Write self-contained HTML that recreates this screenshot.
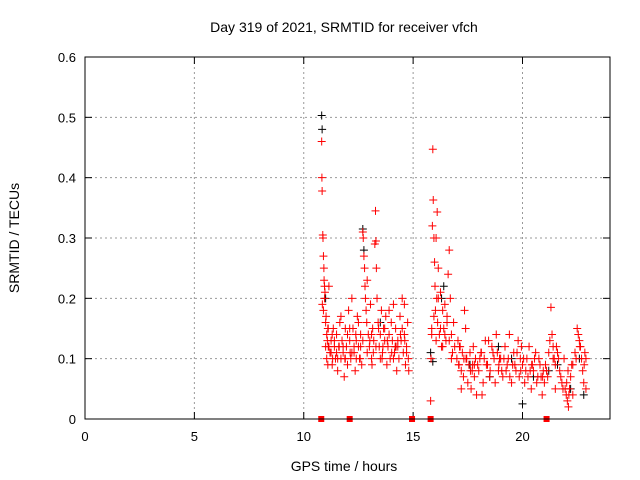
<!DOCTYPE html>
<html><head><meta charset="utf-8"><style>
body{margin:0;background:#fff}
svg{display:block;font-family:"Liberation Sans",sans-serif}
</style></head><body>
<svg id="chart" width="640" height="480">
<text x="344" y="32" font-size="14" text-anchor="middle">Day 319 of 2021, SRMTID for receiver vfch</text>
<text x="344" y="471" font-size="14" text-anchor="middle">GPS time / hours</text>
<text transform="translate(19,238) rotate(-90)" font-size="14" text-anchor="middle">SRMTID / TECUs</text>
<g id="grid"></g><g id="ticks"></g><g id="marks"></g>
<rect x="85" y="57" width="525" height="362" fill="none" stroke="#000"/>
</svg>
<script>
const xTicks=[0,5,10,15,20];
const yTicks=[0,0.1,0.2,0.3,0.4,0.5,0.6];
const yTickLabels=["0","0.1","0.2","0.3","0.4","0.5","0.6"];
const blackHours=[10.82,10.84,11.0,12.7,13.5,14.2,15.8,15.9,16.3,17.6,18.5,19.5,20.0,20.5,21.2,22.2,22.6,22.8,12.75,16.4,18.9,21.6];
const blackValues=[0.503,0.48,0.2,0.315,0.16,0.12,0.11,0.095,0.2,0.09,0.07,0.1,0.025,0.07,0.08,0.05,0.1,0.04,0.28,0.22,0.12,0.09];
const redHours=[
10.82,10.83,10.84,10.87,10.88,10.9,10.92,10.93,10.95,10.97,
10.85,10.9,10.95,11.0,11.02,11.05,11.08,11.1,11.12,11.15,
11.2,11.25,11.3,11.35,11.4,11.45,11.5,11.55,11.6,11.65,
11.7,11.75,11.8,11.85,11.9,11.95,12.0,12.05,12.1,12.15,
12.2,12.25,12.3,12.35,12.4,12.45,12.5,12.55,12.6,12.65,
12.7,12.72,12.75,12.78,12.8,12.82,12.85,12.88,12.9,12.95,
13.0,13.05,13.1,13.15,13.2,13.25,13.28,13.3,13.32,13.35,
13.4,13.45,13.5,13.55,13.6,13.65,13.7,13.75,13.8,13.85,
13.9,13.95,14.0,14.05,14.1,14.15,14.2,14.25,14.3,14.35,
14.4,14.45,14.5,14.55,14.6,14.65,14.7,14.75,14.8,14.6,
11.0,11.1,11.3,11.5,11.7,11.9,12.1,12.3,12.5,12.7,
12.9,13.1,13.3,13.5,13.7,13.9,14.1,14.3,14.5,14.7,
11.05,11.15,11.25,11.4,11.55,11.8,12.0,12.2,12.4,12.6,
13.02,13.18,13.42,13.62,13.82,14.02,14.22,14.42,14.62,14.78,
11.12,11.32,11.62,11.88,12.12,12.38,12.58,13.12,13.58,14.18,
15.8,15.82,15.85,15.88,15.9,15.92,15.95,15.98,16.0,16.02,
16.05,16.08,16.1,16.12,16.15,16.2,16.25,16.3,16.35,16.4,
16.45,16.5,16.55,16.6,16.65,16.7,16.75,16.8,16.85,16.9,
15.85,15.95,16.05,16.15,16.25,16.35,16.45,16.55,16.65,16.75,
17.0,17.05,17.1,17.15,17.2,17.25,17.3,17.35,17.4,17.45,
17.5,17.55,17.6,17.65,17.7,17.75,17.8,17.85,17.9,17.95,
18.0,18.1,18.2,18.3,18.4,18.5,18.6,18.7,18.8,18.9,
19.0,19.1,19.2,19.3,19.4,19.5,19.6,19.7,19.8,19.9,
20.0,20.1,20.2,20.3,20.4,20.5,20.6,20.7,20.8,20.9,
21.0,21.1,21.2,21.25,21.3,21.35,21.4,21.45,21.5,21.6,
21.7,21.8,21.9,22.0,22.05,22.1,22.15,22.2,22.3,22.4,
22.5,22.55,22.6,22.65,22.7,22.75,22.8,22.85,22.9,22.9,
17.2,17.8,18.25,18.75,19.25,19.75,20.25,20.75,21.5,22.3,
18.15,18.45,18.85,19.15,19.55,19.95,20.35,20.65,21.15,21.95,
17.08,17.32,17.62,18.05,18.35,18.65,18.95,19.05,19.35,19.65,
19.85,20.05,20.15,20.45,20.55,20.85,20.95,21.05,21.4,21.55,
17.12,17.42,17.72,18.12,18.52,18.92,19.42,19.92,20.42,20.92,
21.65,21.75,21.85,22.02,22.08,22.12,22.25,22.45,22.62,22.82];
const redValues=[
0.46,0.40,0.378,0.305,0.30,0.27,0.25,0.23,0.22,0.21,
0.19,0.18,0.2,0.16,0.17,0.14,0.13,0.15,0.12,0.22,
0.11,0.13,0.09,0.15,0.12,0.1,0.14,0.08,0.12,0.16,
0.1,0.13,0.11,0.07,0.15,0.12,0.09,0.18,0.13,0.1,
0.2,0.15,0.11,0.08,0.13,0.17,0.12,0.1,0.14,0.09,
0.31,0.3,0.27,0.25,0.22,0.2,0.18,0.16,0.23,0.14,
0.12,0.19,0.1,0.15,0.13,0.29,0.345,0.295,0.25,0.2,
0.16,0.12,0.14,0.18,0.11,0.15,0.13,0.17,0.09,0.12,
0.14,0.1,0.16,0.13,0.19,0.11,0.15,0.08,0.12,0.1,
0.17,0.13,0.2,0.11,0.14,0.09,0.12,0.16,0.08,0.19,
0.12,0.09,0.14,0.11,0.17,0.1,0.15,0.12,0.16,0.13,
0.11,0.14,0.12,0.1,0.15,0.18,0.1,0.13,0.15,0.11,
0.1,0.12,0.11,0.13,0.1,0.12,0.14,0.11,0.1,0.12,
0.13,0.11,0.15,0.12,0.13,0.11,0.12,0.14,0.13,0.1,
0.15,0.1,0.12,0.1,0.11,0.14,0.1,0.09,0.1,0.12,
0.03,0.1,0.14,0.32,0.447,0.363,0.3,0.26,0.22,0.18,
0.3,0.2,0.343,0.16,0.25,0.14,0.21,0.12,0.18,0.15,
0.19,0.13,0.17,0.24,0.28,0.2,0.14,0.11,0.16,0.12,
0.15,0.17,0.13,0.2,0.15,0.12,0.14,0.16,0.13,0.1,
0.1,0.13,0.09,0.12,0.08,0.11,0.07,0.18,0.15,0.1,
0.06,0.09,0.11,0.05,0.08,0.12,0.07,0.1,0.04,0.09,
0.08,0.11,0.06,0.13,0.09,0.07,0.12,0.1,0.14,0.08,
0.1,0.07,0.12,0.09,0.14,0.06,0.11,0.08,0.13,0.1,
0.09,0.06,0.1,0.12,0.05,0.08,0.11,0.07,0.09,0.04,
0.06,0.08,0.11,0.13,0.185,0.14,0.12,0.1,0.09,0.11,
0.08,0.06,0.1,0.04,0.03,0.02,0.05,0.07,0.09,0.11,
0.15,0.14,0.13,0.12,0.1,0.08,0.06,0.11,0.1,0.05,
0.05,0.09,0.1,0.06,0.08,0.11,0.07,0.1,0.05,0.04,
0.04,0.13,0.11,0.1,0.09,0.12,0.08,0.06,0.07,0.05,
0.09,0.1,0.08,0.1,0.09,0.11,0.1,0.08,0.1,0.09,
0.07,0.1,0.08,0.09,0.1,0.07,0.08,0.09,0.1,0.12,
0.12,0.1,0.09,0.11,0.08,0.09,0.07,0.08,0.09,0.07,
0.1,0.07,0.05,0.06,0.08,0.04,0.09,0.1,0.12,0.09];
const zeroHours=[10.8,12.1,14.95,15.8,21.1];

const NS="http://www.w3.org/2000/svg";
const X=h=>85+h*(525/24);
const Y=v=>419-v*(362/0.6);
function mk(tag,attrs,parent){const e=document.createElementNS(NS,tag);for(const k in attrs)e.setAttribute(k,attrs[k]);parent.appendChild(e);return e;}
const grid=document.getElementById('grid'),ticks=document.getElementById('ticks'),marks=document.getElementById('marks');
xTicks.forEach(t=>{
  const x=X(t);
  if(t>0){const g=mk('line',{x1:x,x2:x,y1:57,y2:419,stroke:'#999','stroke-dasharray':'2,3'},grid);
  
  }
  mk('line',{x1:x,x2:x,y1:419,y2:412,stroke:'#000'},ticks);
  mk('line',{x1:x,x2:x,y1:57,y2:64,stroke:'#000'},ticks);
  const l=mk('text',{x:x,y:441,'font-size':13,'text-anchor':'middle'},ticks);l.textContent=t;
  
  
});
yTicks.forEach((t,i)=>{
  const y=Y(t);
  if(t>0&&t<0.6){const g=mk('line',{x1:85,x2:610,y1:y,y2:y,stroke:'#999','stroke-dasharray':'2,3'},grid);
  
  }
  mk('line',{x1:85,x2:92,y1:y,y2:y,stroke:'#000'},ticks);
  mk('line',{x1:610,x2:603,y1:y,y2:y,stroke:'#000'},ticks);
  const l=mk('text',{x:76,y:y+5,'font-size':13,'text-anchor':'end'},ticks);l.textContent=yTickLabels[i];
  
  
});
function cross(h,v,color,name){
  const x=X(h),y=Y(v);
  const p=mk('path',{d:`M${x-4},${y}H${x+4}M${x},${y-4}V${y+4}`,stroke:color,'stroke-width':1,fill:'none'},marks);
  
  
}
blackHours.forEach((h,i)=>cross(h,blackValues[i],'#000','black-point'));
redHours.forEach((h,i)=>cross(h,redValues[i],'#f00','red-point'));
zeroHours.forEach(h=>{
  const r=mk('rect',{x:X(h)-3,y:416,width:6,height:6,fill:'#f00'},marks);
  
  
});
</script>
</body></html>
